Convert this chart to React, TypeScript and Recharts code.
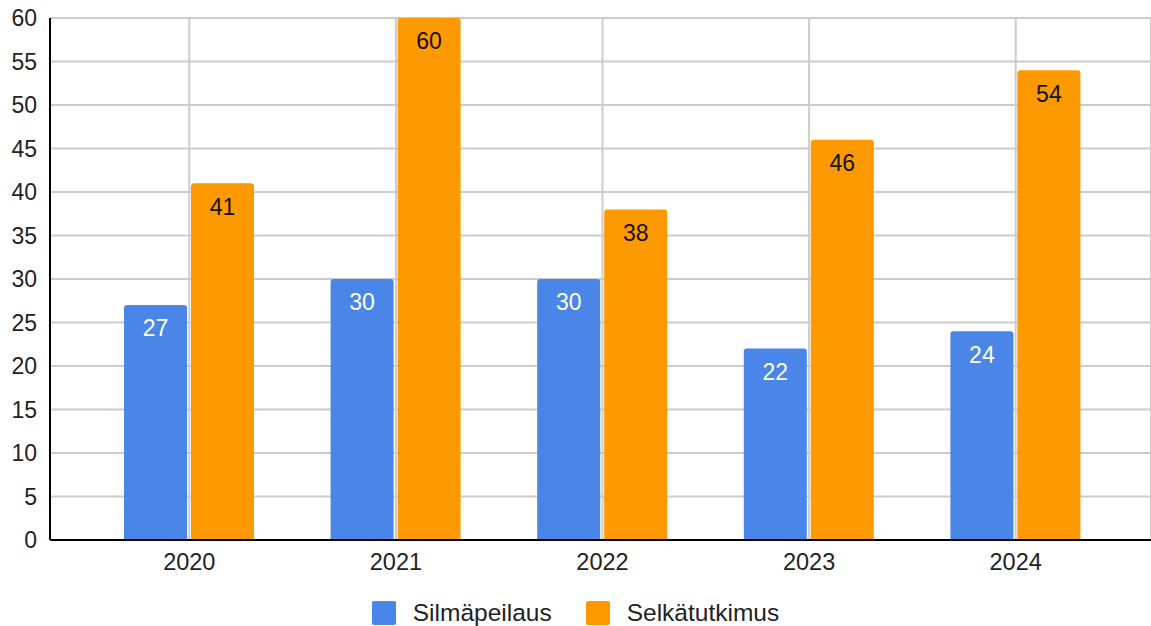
import React from "react";
import { BarChart, Bar, XAxis, YAxis, CartesianGrid, Legend, LabelList } from "recharts";

const years = ["2020", "2021", "2022", "2023", "2024"];
const silmapeilaus = [27, 30, 30, 22, 24];
const selkatutkimus = [41, 60, 38, 46, 54];
const yTicks = [0, 5, 10, 15, 20, 25, 30, 35, 40, 45, 50, 55, 60];
const seriesNames = ["Silmäpeilaus", "Selkätutkimus"];
const seriesColors = ["#4a86e8", "#ff9900"];

const data = years.map((y, i) => ({ year: y, a: silmapeilaus[i], b: selkatutkimus[i] }));

const FONT = "'Liberation Sans', Arial, sans-serif";

const LegendContent = () => (
  <div style={{ display: "flex", justifyContent: "center", alignItems: "center", height: 26, fontFamily: FONT, fontSize: 24.5, color: "#222" }}>
    {seriesNames.map((n, i) => (
      <div key={n} style={{ display: "flex", alignItems: "center", marginRight: i === 0 ? 34 : 0 }}>
        <div style={{ width: 24, height: 24, background: seriesColors[i], borderRadius: 2, marginRight: 17 }} />
        <span>{n}</span>
      </div>
    ))}
  </div>
);

export default function App() {
  return (
    <div style={{ position: "absolute", left: 0, top: 0, width: 1151, height: 626, background: "#fff", fontFamily: FONT }}>
      <BarChart
        width={1151}
        height={626}
        data={data}
        margin={{ top: 18, right: 0, bottom: 0, left: 0 }}
        barSize={63}
        barGap={4}
      >
        <CartesianGrid stroke="#cccccc" strokeWidth={2} />
        <XAxis
          dataKey="year"
          padding={{ left: 36, right: 32 }}
          tickLine={false}
          tickSize={0}
          tickMargin={13}
          height={60}
          axisLine={{ stroke: "#000", strokeWidth: 2 }}
          tick={{ fill: "#222", fontSize: 23.5, fontFamily: FONT }}
        />
        <YAxis
          width={50}
          domain={[0, 60]}
          ticks={yTicks}
          interval={0}
          tickLine={false}
          tickSize={0}
          tickMargin={13}
          axisLine={{ stroke: "#000", strokeWidth: 2 }}
          tick={{ fill: "#222", fontSize: 23, fontFamily: FONT }}
        />
        <Legend verticalAlign="bottom" align="center" content={<LegendContent />} wrapperStyle={{ bottom: 0, height: 26 }} />
        <Bar dataKey="a" name={seriesNames[0]} fill={seriesColors[0]} radius={[3, 3, 0, 0]} isAnimationActive={false}>
          <LabelList dataKey="a" position="insideTop" offset={15} fill="#ffffff" fontSize={23} fontFamily={FONT} />
        </Bar>
        <Bar dataKey="b" name={seriesNames[1]} fill={seriesColors[1]} radius={[3, 3, 0, 0]} isAnimationActive={false}>
          <LabelList dataKey="b" position="insideTop" offset={15} fill="#111" fontSize={23} fontFamily={FONT} />
        </Bar>
      </BarChart>
    </div>
  );
}
